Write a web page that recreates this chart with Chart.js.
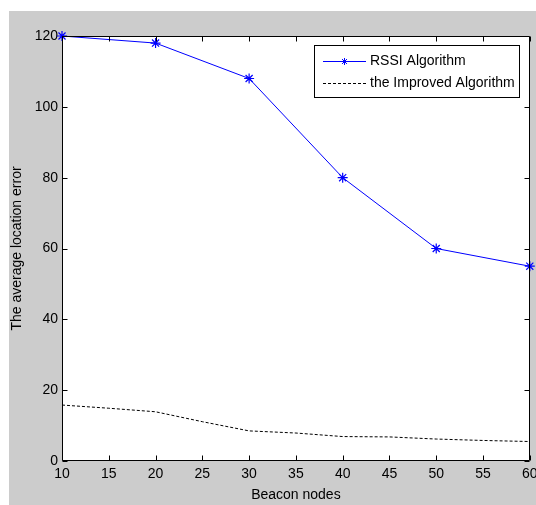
<!DOCTYPE html>
<html><head><meta charset="utf-8">
<style>html,body{margin:0;padding:0;background:#fff;}#wrap{position:absolute;left:0;top:0;width:536px;height:505px;}</style>
<script src="https://cdn.jsdelivr.net/npm/chart.js@4/dist/chart.umd.min.js"></script>
</head><body><div id="wrap"><canvas id="c" width="536" height="505"></canvas></div>
<script>
const xTicks = [10, 15, 20, 25, 30, 35, 40, 45, 50, 55, 60];
const yTicks = [0, 20, 40, 60, 80, 100, 120];
const rssiX = [10, 20, 30, 40, 50, 60];
const rssiY = [120, 118, 108, 80, 60, 55];
const improvedX = [10, 15, 20, 25, 30, 35, 40, 45, 50, 55, 60];
const improvedY = [15.8, 14.9, 13.9, 11.1, 8.5, 7.9, 6.9, 6.8, 6.2, 5.8, 5.5];
const seriesNames = ['RSSI Algorithm', 'the Improved Algorithm'];
const xTitle = 'Beacon nodes';
const yTitle = 'The average location error';

const FONT = "'Liberation Sans', Arial, sans-serif";
const FS = 14;
Chart.defaults.font.family = FONT;
Chart.defaults.font.size = FS;
Chart.defaults.color = '#000';

const framePlugin = {
  id: 'frame',
  beforeDraw(chart) {
    const ctx = chart.ctx, a = chart.chartArea;
    ctx.save();
    ctx.fillStyle = '#fff';
    ctx.fillRect(0, 0, chart.width, chart.height);
    ctx.fillStyle = '#cccccc';
    ctx.fillRect(9, 11, chart.width - 9, chart.height - 11);
    ctx.fillStyle = '#fff';
    ctx.fillRect(a.left, a.top, a.right - a.left, a.bottom - a.top);
    ctx.restore();
  },
  afterDatasetsDraw(chart) {
    const ctx = chart.ctx, a = chart.chartArea;
    const xs = chart.scales.x, ys = chart.scales.y;
    const L = Math.round(a.left) + 0.5, R = Math.round(a.right) - 0.5;
    const T = Math.round(a.top) + 0.5, B = Math.round(a.bottom) - 0.5;
    ctx.save();
    ctx.strokeStyle = '#000';
    ctx.lineWidth = 1;
    ctx.setLineDash([]);
    ctx.beginPath();
    ctx.rect(L, T, R - L, B - T);
    xTicks.forEach(v => {
      const p = Math.round(xs.getPixelForValue(v)) + 0.5;
      ctx.moveTo(p, B); ctx.lineTo(p, B - 5);
      ctx.moveTo(p, T); ctx.lineTo(p, T + 5);
    });
    yTicks.forEach(v => {
      const p = Math.round(ys.getPixelForValue(v)) + 0.5;
      ctx.moveTo(L, p); ctx.lineTo(L + 5, p);
      ctx.moveTo(R, p); ctx.lineTo(R - 5, p);
    });
    ctx.stroke();
    ctx.restore();
  },
  afterDraw(chart) {
    const ctx = chart.ctx;
    ctx.save();
    ctx.fillStyle = '#fff';
    ctx.fillRect(314.5, 45.5, 205, 52);
    ctx.strokeStyle = '#000';
    ctx.lineWidth = 1;
    ctx.strokeRect(314.5, 45.5, 205, 52);
    // RSSI sample
    ctx.strokeStyle = '#0000ff';
    ctx.beginPath();
    ctx.moveTo(323, 61.5); ctx.lineTo(366, 61.5);
    const cx = 344.5, cy = 61.5, r = 3.5, d = r * 0.7071;
    ctx.moveTo(cx - r, cy); ctx.lineTo(cx + r, cy);
    ctx.moveTo(cx, cy - r); ctx.lineTo(cx, cy + r);
    ctx.moveTo(cx - d, cy - d); ctx.lineTo(cx + d, cy + d);
    ctx.moveTo(cx - d, cy + d); ctx.lineTo(cx + d, cy - d);
    ctx.stroke();
    // Improved sample
    ctx.strokeStyle = '#000';
    ctx.setLineDash([3, 2]);
    ctx.beginPath();
    ctx.moveTo(323, 83.5); ctx.lineTo(366, 83.5);
    ctx.stroke();
    ctx.setLineDash([]);
    ctx.fillStyle = '#000';
    ctx.font = FS + 'px ' + FONT;
    ctx.textBaseline = 'middle';
    ctx.textAlign = 'left';
    ctx.fillText(seriesNames[0], 370, 61.5);
    ctx.fillText(seriesNames[1], 370, 83);
    ctx.restore();
  }
};

new Chart(document.getElementById('c'), {
  type: 'line',
  data: {
    datasets: [
      {
        label: seriesNames[0],
        data: rssiX.map((x, i) => ({ x, y: rssiY[i] })),
        borderColor: '#0000ff',
        backgroundColor: '#0000ff',
        borderWidth: 1,
        pointStyle: 'star',
        pointRadius: 5,
        pointBorderWidth: 1.2,
        pointBorderColor: '#0000ff',
        tension: 0,
        fill: false,
        clip: false
      },
      {
        label: seriesNames[1],
        data: improvedX.map((x, i) => ({ x, y: improvedY[i] })),
        borderColor: '#000',
        borderWidth: 1,
        borderDash: [3, 2],
        pointRadius: 0,
        tension: 0,
        fill: false
      }
    ]
  },
  options: {
    responsive: false,
    animation: false,
    devicePixelRatio: 1,
    layout: { padding: { left: 0, top: 36, right: 6, bottom: 0 } },
    plugins: { legend: { display: false }, tooltip: { enabled: false } },
    scales: {
      x: {
        type: 'linear', min: 10, max: 60,
        afterBuildTicks: s => { s.ticks = xTicks.map(v => ({ value: v })); },
        afterFit: s => { s.height = 44; s.paddingLeft = 0; s.paddingRight = 0; },
        grid: { display: false, drawTicks: false },
        border: { display: false },
        ticks: { padding: 5, color: '#000', font: { size: FS }, maxRotation: 0, autoSkip: false },
        title: { display: true, text: xTitle, color: '#000', font: { size: FS }, padding: { top: 0, bottom: 1 } }
      },
      y: {
        type: 'linear', min: 0, max: 120,
        afterBuildTicks: s => { s.ticks = yTicks.map(v => ({ value: v })); },
        afterFit: s => { s.width = 62; },
        grid: { display: false, drawTicks: false },
        border: { display: false },
        ticks: { padding: 4, color: '#000', font: { size: FS }, autoSkip: false },
        title: { display: true, text: yTitle, color: '#000', font: { size: FS }, padding: { top: 9, bottom: 0 } }
      }
    }
  },
  plugins: [framePlugin]
});
</script>
</body></html>
